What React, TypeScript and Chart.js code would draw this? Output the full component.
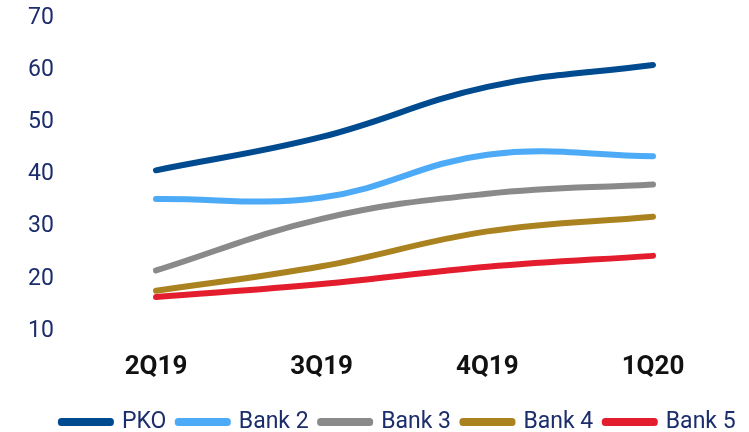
import React, { useEffect, useRef } from 'react';
import { Chart, registerables } from 'chart.js';

Chart.register(...registerables);

// ---- data ----
const categories = ['2Q19', '3Q19', '4Q19', '1Q20'];
const seriesNames = ['PKO', 'Bank 2', 'Bank 3', 'Bank 4', 'Bank 5'];
const pko = [40.8, 47.2, 56.8, 61.0];
const bank2 = [35.3, 35.6, 43.8, 43.5];
const bank3 = [21.6, 31.5, 36.3, 38.1];
const bank4 = [17.7, 22.4, 29.1, 31.9];
const bank5 = [16.5, 19.0, 22.3, 24.4];
const seriesColors = ['#004a8f', '#4daaf7', '#8a8a8a', '#ab8220', '#e31d2d'];
const yMin = 10;
const yMax = 70;
const yStep = 10;

const FONT = 'Roboto, "Open Sans", sans-serif';
const NAVY = '#1b2d6b';

const legendShift = {
  id: 'legendShift',
  afterLayout(chart: any) {
    const lg = chart.legend;
    if (lg) {
      lg.top += 11.5;
      lg.bottom += 11.5;
    }
  },
};

export default function App() {
  const ref = useRef<HTMLCanvasElement | null>(null);

  useEffect(() => {
    if (!ref.current) return;
    const allSeries = [pko, bank2, bank3, bank4, bank5];
    const chart = new Chart(ref.current, {
      type: 'line',
      data: {
        labels: categories,
        datasets: allSeries.map((d, i) => ({
          label: seriesNames[i],
          data: d,
          borderColor: seriesColors[i],
          backgroundColor: seriesColors[i],
          borderWidth: 6,
          pointRadius: 0,
          pointHoverRadius: 0,
          tension: 0.4,
          borderCapStyle: 'round',
          borderJoinStyle: 'round',
          fill: false,
        })),
      },
      plugins: [legendShift],
      options: {
        responsive: false,
        animation: false,
        events: [],
        layout: { padding: { left: 48, right: 0, top: 18, bottom: 0 } },
        scales: {
          x: {
            type: 'category',
            offset: false,
            grid: { display: false, drawTicks: false },
            border: { display: false },
            ticks: {
              color: '#111111',
              font: { family: FONT, size: 26, weight: 'bold' },
              padding: 21,
              maxRotation: 0,
              autoSkip: false,
            },
            afterFit: (s: any) => {
              s.height = 56;
            },
          },
          y: {
            min: yMin,
            max: yMax,
            grid: { display: false, drawTicks: false },
            border: { display: false },
            ticks: {
              stepSize: yStep,
              color: NAVY,
              font: { family: FONT, size: 23 },
              mirror: true,
              padding: -128,
            },
            afterFit: (s: any) => {
              s.width = 108;
            },
          },
          yRight: {
            position: 'right',
            display: true,
            min: yMin,
            max: yMax,
            grid: { display: false, drawTicks: false },
            border: { display: false },
            ticks: { display: false },
            afterFit: (s: any) => {
              s.width = 96;
            },
          },
        },
        plugins: {
          tooltip: { enabled: false },
          legend: {
            position: 'bottom',
            labels: {
              boxWidth: 49,
              boxHeight: 1,
              padding: 12,
              color: NAVY,
              font: { family: FONT, size: 23 },
              generateLabels: (c: any) =>
                c.data.datasets.map((ds: any, i: number) => ({
                  text: ds.label,
                  fillStyle: seriesColors[i],
                  strokeStyle: seriesColors[i],
                  lineWidth: 7,
                  lineCap: 'round',
                  lineJoin: 'round',
                  hidden: false,
                  datasetIndex: i,
                  fontColor: NAVY,
                })),
            },
          },
        },
      } as any,
    });
    return () => chart.destroy();
  }, []);

  return (
    <div style={{ position: 'fixed', left: 0, top: 0, width: 749, height: 432 }}>
      <canvas ref={ref} width={749} height={432} style={{ display: 'block', width: 749, height: 432 }} />
    </div>
  );
}
